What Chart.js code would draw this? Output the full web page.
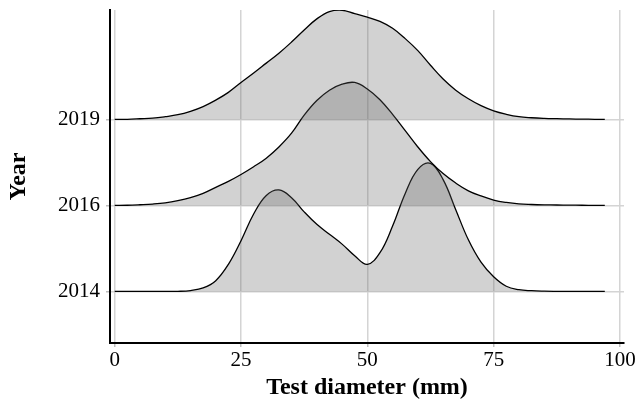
<!DOCTYPE html>
<html><head><meta charset="utf-8">
<script src="https://cdn.jsdelivr.net/npm/chart.js@4.4.0/dist/chart.umd.min.js"></script>
<style>html,body{margin:0;padding:0;background:#fff;}</style>
</head><body>
<canvas id="c" width="635" height="404"></canvas>
<script>
// Test diameter (mm) sample positions
const diameters = [0,2.5,5,7.5,10,12.5,15,17.5,20,22.5,25,27.5,30,32.5,35,37.5,40,42.5,45,47.5,50,52.5,55,57.5,60,62.5,65,67.5,70,72.5,75,77.5,80,82.5,85,87.5,90,92.5,95,97];
// Ridge heights (density, in ridge units)
const density2014 = [0,0,0,0,0,0.001,0.01,0.04,0.125,0.315,0.59,0.90,1.115,1.18,1.09,0.925,0.78,0.665,0.55,0.415,0.315,0.45,0.76,1.14,1.42,1.49,1.30,0.95,0.60,0.34,0.17,0.06,0.02,0.008,0.003,0.001,0,0,0,0];
const density2016 = [0,0.002,0.008,0.016,0.03,0.055,0.09,0.14,0.21,0.28,0.36,0.45,0.55,0.68,0.84,1.05,1.22,1.34,1.41,1.43,1.355,1.23,1.06,0.87,0.68,0.51,0.37,0.26,0.17,0.11,0.063,0.035,0.018,0.011,0.007,0.005,0.003,0.002,0.001,0];
const density2019 = [0,0.002,0.008,0.015,0.032,0.055,0.095,0.15,0.225,0.315,0.43,0.54,0.655,0.77,0.90,1.04,1.17,1.255,1.27,1.23,1.19,1.14,1.06,0.94,0.80,0.63,0.47,0.34,0.24,0.16,0.10,0.06,0.032,0.02,0.013,0.009,0.006,0.004,0.002,0.001];
const years = ['2014','2016','2019'];
const yearPositions = [1,2,3];
const xTickValues = [0,25,50,75,100];

const serif = 'Liberation Serif';
const gridColor = '#d4d4d4';

function series(heights, base){
  return diameters.map((d,i)=>({x:d, y: base + heights[i]}));
}
const allDensities = [density2014, density2016, density2019];
const datasets = [2,1,0].map(i => ({
  label: years[i],
  data: series(allDensities[i], yearPositions[i]),
  borderColor: '#000',
  borderWidth: 1.3,
  backgroundColor: 'rgba(100,100,100,0.29)',
  fill: {value: yearPositions[i]},
  pointRadius: 0,
  tension: 0.4
}));

new Chart(document.getElementById('c'), {
  type: 'line',
  data: {datasets},
  options: {
    responsive: false,
    animation: false,
    devicePixelRatio: 1,
    layout: {padding: {left: 0, right: 11, top: 10, bottom: 0}},
    plugins: {legend: {display: false}, tooltip: {enabled: false}},
    scales: {
      x: {
        type: 'linear', min: -0.93, max: 100.8,
        afterBuildTicks: s => { s.ticks = xTickValues.map(v => ({value: v})); },
        afterFit: s => { s.height = 61; s.paddingLeft = 0; s.paddingRight = 0; },
        grid: {color: gridColor, lineWidth: 1.5, drawTicks: true, tickLength: 4, tickColor: '#bdbdbd'},
        border: {display: true, color: '#000', width: 2},
        ticks: {font: {family: serif, size: 21}, color: '#000', padding: 1, maxRotation: 0, autoSkip: false},
        title: {display: true, text: 'Test diameter (mm)', color: '#000',
                font: {family: serif, size: 24, weight: 'bold'}, padding: {top: 0, bottom: 2}}
      },
      y: {
        type: 'linear', min: 0.4, max: 4.273,
        afterBuildTicks: s => { s.ticks = yearPositions.map(v => ({value: v})); },
        afterFit: s => { s.width = 110; s.paddingTop = 0; s.paddingBottom = 0; },
        grid: {color: gridColor, lineWidth: 1.5, drawTicks: true, tickLength: 4, tickColor: '#bdbdbd'},
        border: {display: true, color: '#000', width: 2},
        ticks: {font: {family: serif, size: 21}, color: '#000', padding: 6,
                callback: v => years[yearPositions.indexOf(Math.round(v))]},
        title: {display: true, text: 'Year', color: '#000',
                font: {family: serif, size: 24, weight: 'bold'}, padding: {top: 4, bottom: 0}}
      }
    }
  }
});
</script>
</body></html>
